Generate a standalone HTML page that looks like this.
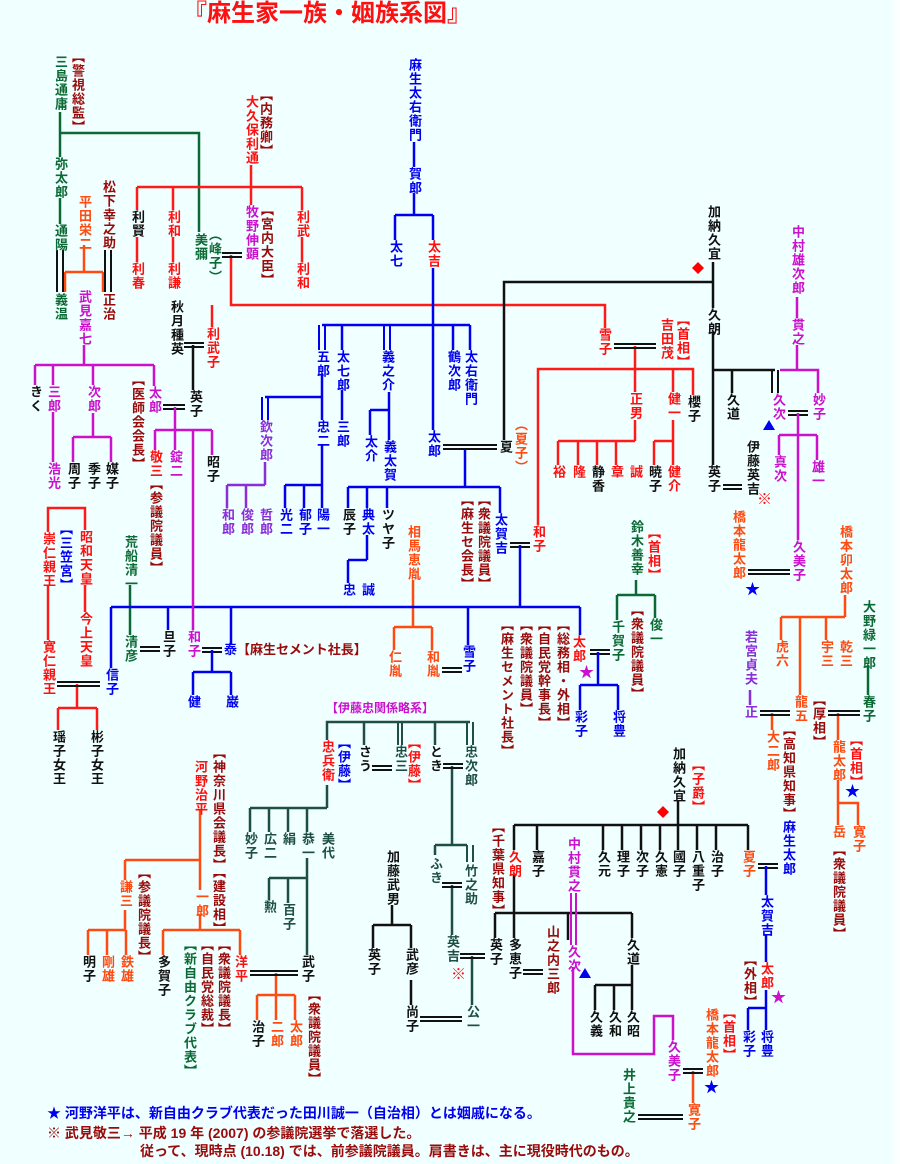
<!DOCTYPE html>
<html><head><meta charset="utf-8">
<style>
html,body{margin:0;padding:0}
body{width:900px;height:1164px;background:#f0ffff;position:relative;overflow:hidden;font-family:"Liberation Sans","Noto Sans CJK JP",sans-serif}
.v{position:absolute;writing-mode:vertical-rl;font-weight:bold;font-size:13px;line-height:14px;letter-spacing:1px;transform:translateX(-50%);white-space:nowrap}
.h{position:absolute;font-weight:bold;font-size:13px;line-height:16px;white-space:nowrap}
.r{color:#ff1010}.b{color:#0000f0}.g{color:#0b6a34}.k{color:#111}.m{color:#cc10cc}.d{color:#9a0a0a}.o{color:#ff4a10}.p{color:#8a2ed8}.t{color:#1d4f45}
svg{position:absolute;left:0;top:0}
</style></head><body>
<div style="position:absolute;right:0;top:0;width:7px;height:1164px;background:#fbffff"></div>
<div class="h r" style="left:183px;top:0px;font-size:24px;line-height:28px;letter-spacing:0px">『麻生家一族・姻族系図』</div>
<svg width="900" height="1164" fill="none" stroke-width="2.5">
<g stroke="#0b6a34">
<path d="M60 112V157M60 133H199V232M60 198V224M130 585V635M636 580V595M617 595H655M617 595V620M655 595V618M868 665V695"/>
</g>
<g stroke="#1d4f45">
<path d="M327 740V722H470M364 722V745M435 722V745M327 785V808M250 808H327M250 808V832M269 808V832M288 808V832M307 808V832M307 858V955M269 878H307M269 878V900M288 878V903M452 766V845M435 845H467M435 845V855M452 885V935M472 956V1005"/>
<path d="M398 722V745M402 722V745M467 722V745M473 722V745M467 845V862M473 845V862" stroke-width="2"/>
</g>
<g stroke="#ff1a1a">
<path d="M251 165V187M137 187H302M137 187V210M173 187V210M251 187V205M302 187V210M137 237V262M173 237V262M302 237V262M231 255V305H605V328M212 305V327"/>
<path d="M48 585V640M85 585V612M48 532V508H85V530M77 684V708M58 708H97M58 708V730M97 708V730"/>
<path d="M538 525V369H693V395M635 346V392M673 369V392M635 420V441M558 441H635M558 441V465M578 441V465M597 441V465M616 441V465M673 420V441M654 441H673V465M654 441V465"/>
</g>
<g stroke="#ff4a10">
<path d="M84 245V272M65 272H103M65 272V292M103 272V292M413 580V627M394 627H432M394 627V650M432 627V650"/>
<path d="M200 810V890M125 860H200M125 860V880M200 915V930M163 930H240M163 930V955M240 930V955M125 910V930M88 930H126M88 930V955M107 930V955M126 930V955"/>
<path d="M276 973V995M257 995H295M257 995V1020M276 995V1020M295 995V1020"/>
<path d="M845 595V617M781 617H845M781 617V640M800 617V695M826 617V640M772 713V730M838 713V740M838 780V825M838 803H858V825M693 1071V1103"/>
</g>
<g stroke="#111">
<path d="M504 440V282H713M713 262V308M713 333V465M713 370H775M732 370V393M193 345V390"/>
<path d="M392 905V925M373 925H411M373 925V948M411 925V948M411 980V1005"/>
<path d="M678 800V825M514 825H748M537 825V850M603 825V850M622 825V850M641 825V850M660 825V850M678 825V850M697 825V850M716 825V850M748 825V850M514 825V850"/>
<path d="M514 875V913M495 913H632M495 913V938M514 913V938M568 913V940M632 913V938M632 965V985M595 985H632M595 985V1010M614 985V1010M632 985V1010"/>
<g stroke-width="2">
<path d="M222 253H242M222 257H242M184 343H204M184 347H204M163 405H185M163 409H185M443 445H497M443 449H497M614 344H656M614 348H656M788 411H808M788 415H808M723 485H742M723 489H742M748 570H790M748 574H790M510 543H530M510 547H530M140 647H160M140 651H160M202 648H222M202 652H222M442 668H462M442 672H462M590 650H610M590 654H610M57 682H100M57 686H100M760 711H790M760 715H790M828 711H860M828 715H860M372 766H392M372 770H392M443 764H463M443 768H463M442 883H462M442 887H462M460 954H485M460 958H485M420 1017H462M420 1021H462M523 970H543M523 974H543M250 971H298M250 975H298M758 864H778M758 868H778M683 1069H703M683 1073H703M638 1115H683M638 1119H683"/>
<path d="M57 250V292M63 250V292M105 250V292M111 250V292M772 370V393M778 370V393"/>
</g>
</g>
<g stroke="#0000f0">
<path d="M414 142V167M414 193V215M395 215H433M395 215V240M433 215V240M433 268V430M322 325H470M342 325V350M453 325V350M470 325V350M322 375V420M265 397H322M322 445V485M285 485H322M285 485V508M304 485V508M322 485V508M342 390V420M389 392V440M370 410H389M370 410V435"/>
<path d="M319 325V350M325 325V350M384 325V350M390 325V350M262 397V420M268 397V420" stroke-width="2"/>
<path d="M465 450V487M348 487H500M348 487V508M367 487V508M387 487V508M500 487V513M367 535V560M348 560H367M348 560V583"/>
<path d="M520 545V607M111 607H580M111 607V668M168 607V630M231 607V645M468 607V645M580 607V635M212 650V672M193 672H231M193 672V695M231 672V695M598 652V685M580 685H618M580 685V710M618 685V710"/>
<path d="M766 866V895M766 935V962M766 990V1030M748 1008H766M748 1008V1030"/>
</g>
<g stroke="#8a2ed8"><path d="M265 462V485M227 485H265M227 485V508M246 485V508M750 690V705"/></g>
<g stroke="#cc10cc">
<path d="M84 345V365M35 365H154M35 365V385M53 365V385M93 365V385M154 365V386M53 412V462M93 413V437M73 437H111M73 437V462M111 437V462"/>
<path d="M175 407V430M155 430H212M155 430V450M175 430V450M193 430V630M212 430V455"/>
<path d="M797 297V318M797 345V370M780 370H818V393M798 413V540M779 435H817M779 435V455M817 435V460"/>
<path d="M571 893V945M576 893V945" stroke-width="2"/>
<path d="M573 967V1054H654V1016H673V1040"/>
</g>
<g stroke="none">
<path fill="#f00" d="M698 262l6 6-6 6-6-6zM663 806l6 6-6 6-6-6z"/>
<path fill="#0000f0" d="M769 420l6 10h-12zM585 968l6 10h-12z"/>
</g>
</svg>
<div class="h b" style="left:745px;top:582px;font-size:15px">★</div>
<div class="h b" style="left:845px;top:784px;font-size:15px">★</div>
<div class="h b" style="left:704px;top:1080px;font-size:15px">★</div>
<div class="h m" style="left:579px;top:665px;font-size:15px">★</div>
<div class="h m" style="left:771px;top:990px;font-size:15px">★</div>
<div class="h r" style="left:757px;top:492px;font-size:15px">※</div>
<div class="h r" style="left:451px;top:967px;font-size:15px">※</div>

<div class="v d" style="left:77px;top:50px">【警視総監】</div>
<div class="v g" style="left:60px;top:55px">三島通庸</div>
<div class="v g" style="left:60px;top:157px">弥太郎</div>
<div class="v g" style="left:60px;top:224px">通陽</div>
<div class="v g" style="left:60px;top:293px">義温</div>
<div class="v r" style="left:251px;top:95px">大久保利通</div>
<div class="v d" style="left:265px;top:88px">【内務卿】</div>
<div class="v k" style="left:137px;top:210px">利賢</div>
<div class="v r" style="left:173px;top:210px">利和</div>
<div class="v m" style="left:251px;top:205px">牧野伸顕</div>
<div class="v d" style="left:266px;top:203px">【宮内大臣】</div>
<div class="v r" style="left:302px;top:210px">利武</div>
<div class="v r" style="left:137px;top:262px">利春</div>
<div class="v r" style="left:173px;top:262px">利謙</div>
<div class="v r" style="left:302px;top:262px">利和</div>
<div class="v g" style="left:200px;top:233px">美彌</div>
<div class="v g" style="left:214px;top:228px">（峰子）</div>
<div class="v d" style="left:108px;top:180px">松下幸之助</div>
<div class="v d" style="left:108px;top:293px">正治</div>
<div class="v o" style="left:84px;top:195px">平田栄二</div>
<div class="v m" style="left:84px;top:290px">武見嘉七</div>
<div class="v k" style="left:176px;top:300px">秋月種英</div>
<div class="v r" style="left:212px;top:327px">利武子</div>
<div class="v k" style="left:35px;top:385px">きく</div>
<div class="v m" style="left:53px;top:385px">三郎</div>
<div class="v m" style="left:93px;top:385px">次郎</div>
<div class="v m" style="left:154px;top:386px">太郎</div>
<div class="v d" style="left:137px;top:373px">【医師会会長】</div>
<div class="v k" style="left:195px;top:390px">英子</div>
<div class="v m" style="left:53px;top:462px">浩光</div>
<div class="v k" style="left:73px;top:462px">周子</div>
<div class="v k" style="left:93px;top:462px">季子</div>
<div class="v k" style="left:111px;top:462px">媒子</div>
<div class="v r" style="left:155px;top:450px">敬三</div>
<div class="v d" style="left:155px;top:477px">【参議院議員】</div>
<div class="v m" style="left:175px;top:450px">錠二</div>
<div class="v k" style="left:212px;top:455px">昭子</div>

<div class="v b" style="left:414px;top:58px">麻生太右衛門</div>
<div class="v b" style="left:414px;top:167px">賀郎</div>
<div class="v b" style="left:395px;top:240px">太七</div>
<div class="v r" style="left:433px;top:240px">太吉</div>
<div class="v b" style="left:322px;top:350px">五郎</div>
<div class="v b" style="left:342px;top:350px">太七郎</div>
<div class="v b" style="left:387px;top:350px">義之介</div>
<div class="v b" style="left:453px;top:350px">鶴次郎</div>
<div class="v b" style="left:470px;top:350px">太右衛門</div>
<div class="v b" style="left:322px;top:420px">忠二</div>
<div class="v b" style="left:342px;top:420px">三郎</div>
<div class="v p" style="left:265px;top:420px">欽次郎</div>
<div class="v b" style="left:370px;top:435px">太介</div>
<div class="v b" style="left:389px;top:440px">義太賀</div>
<div class="v p" style="left:227px;top:508px">和郎</div>
<div class="v p" style="left:246px;top:508px">俊郎</div>
<div class="v p" style="left:265px;top:508px">哲郎</div>
<div class="v b" style="left:285px;top:508px">光二</div>
<div class="v b" style="left:304px;top:508px">郁子</div>
<div class="v b" style="left:322px;top:508px">陽一</div>
<div class="v b" style="left:433px;top:430px">太郎</div>
<div class="v k" style="left:505px;top:440px">夏</div>
<div class="v o" style="left:520px;top:418px">（夏子）</div>
<div class="v k" style="left:348px;top:508px">辰子</div>
<div class="v b" style="left:367px;top:508px">典太</div>
<div class="v k" style="left:387px;top:508px">ツヤ子</div>
<div class="v b" style="left:500px;top:513px">太賀吉</div>
<div class="v b" style="left:348px;top:583px">忠</div>
<div class="v b" style="left:367px;top:583px">誠</div>
<div class="v d" style="left:483px;top:493px">【衆議院議員】</div>
<div class="v d" style="left:466px;top:493px">【麻生セ会長】</div>
<div class="v r" style="left:538px;top:525px">和子</div>

<div class="v k" style="left:713px;top:205px">加納久宜</div>
<div class="v k" style="left:713px;top:308px">久朗</div>
<div class="v r" style="left:604px;top:328px">雪子</div>
<div class="v r" style="left:666px;top:318px">吉田茂</div>
<div class="v r" style="left:682px;top:313px">【首相】</div>
<div class="v r" style="left:635px;top:392px">正男</div>
<div class="v r" style="left:673px;top:392px">健一</div>
<div class="v k" style="left:693px;top:395px">櫻子</div>
<div class="v r" style="left:558px;top:465px">裕</div>
<div class="v r" style="left:578px;top:465px">隆</div>
<div class="v k" style="left:597px;top:465px">静香</div>
<div class="v r" style="left:616px;top:465px">章</div>
<div class="v r" style="left:635px;top:465px">誠</div>
<div class="v k" style="left:654px;top:465px">暁子</div>
<div class="v r" style="left:673px;top:465px">健介</div>
<div class="v k" style="left:732px;top:393px">久道</div>
<div class="v m" style="left:778px;top:393px">久次</div>
<div class="v m" style="left:818px;top:393px">妙子</div>
<div class="v k" style="left:713px;top:465px">英子</div>
<div class="v k" style="left:752px;top:440px">伊藤英吉</div>
<div class="v m" style="left:797px;top:225px">中村雄次郎</div>
<div class="v m" style="left:797px;top:318px">貫之</div>
<div class="v m" style="left:779px;top:455px">真次</div>
<div class="v m" style="left:817px;top:460px">雄一</div>
<div class="v m" style="left:798px;top:540px">久美子</div>
<div class="v o" style="left:738px;top:510px">橋本龍太郎</div>
<div class="v o" style="left:845px;top:525px">橋本卯太郎</div>
<div class="v o" style="left:781px;top:640px">虎六</div>
<div class="v o" style="left:826px;top:640px">宇三</div>
<div class="v o" style="left:845px;top:640px">乾三</div>
<div class="v o" style="left:800px;top:695px">龍五</div>
<div class="v g" style="left:868px;top:600px">大野緑一郎</div>
<div class="v g" style="left:868px;top:695px">春子</div>
<div class="v p" style="left:750px;top:630px">若宮貞夫</div>
<div class="v p" style="left:750px;top:705px">正</div>
<div class="v d" style="left:818px;top:693px">【厚相】</div>
<div class="v o" style="left:772px;top:730px">大二郎</div>
<div class="v d" style="left:788px;top:723px">【高知県知事】</div>
<div class="v o" style="left:838px;top:740px">龍太郎</div>
<div class="v r" style="left:855px;top:733px">【首相】</div>
<div class="v o" style="left:838px;top:825px">岳</div>
<div class="v o" style="left:858px;top:825px">寛子</div>
<div class="v d" style="left:838px;top:843px">【衆議院議員】</div>

<div class="v g" style="left:130px;top:535px">荒船清一</div>
<div class="v g" style="left:130px;top:635px">清彦</div>
<div class="v k" style="left:168px;top:630px">旦子</div>
<div class="v m" style="left:193px;top:630px">和子</div>
<div class="h" style="left:224px;top:642px"><span class="b">泰</span><span class="d">【麻生セメント社長】</span></div>
<div class="v b" style="left:111px;top:668px">信子</div>
<div class="v b" style="left:193px;top:695px">健</div>
<div class="v b" style="left:231px;top:695px">巌</div>
<div class="v r" style="left:85px;top:530px">昭和天皇</div>
<div class="v r" style="left:85px;top:612px">今上天皇</div>
<div class="v r" style="left:48px;top:532px">崇仁親王</div>
<div class="v b" style="left:65px;top:522px">【三笠宮】</div>
<div class="v r" style="left:48px;top:640px">寛仁親王</div>
<div class="v k" style="left:58px;top:730px">瑶子女王</div>
<div class="v k" style="left:96px;top:730px">彬子女王</div>
<div class="v o" style="left:413px;top:525px">相馬恵胤</div>
<div class="v o" style="left:394px;top:650px">仁胤</div>
<div class="v o" style="left:432px;top:650px">和胤</div>
<div class="v b" style="left:468px;top:645px">雪子</div>
<div class="v r" style="left:578px;top:635px">太郎</div>
<div class="v d" style="left:562px;top:618px">【総務相・外相】</div>
<div class="v d" style="left:543px;top:618px">【自民党幹事長】</div>
<div class="v d" style="left:525px;top:618px">【衆議院議員】</div>
<div class="v d" style="left:506px;top:618px">【麻生セメント社長】</div>
<div class="v g" style="left:636px;top:520px">鈴木善幸</div>
<div class="v r" style="left:653px;top:526px">【首相】</div>
<div class="v g" style="left:617px;top:620px">千賀子</div>
<div class="v g" style="left:655px;top:618px">俊一</div>
<div class="v d" style="left:636px;top:603px">【衆議院議員】</div>
<div class="v b" style="left:580px;top:710px">彩子</div>
<div class="v b" style="left:618px;top:710px">将豊</div>

<div class="h m" style="left:326px;top:700px;font-size:12px">【伊藤忠関係略系】</div>
<div class="v r" style="left:327px;top:740px">忠兵衛</div>
<div class="v b" style="left:343px;top:736px">【伊藤】</div>
<div class="v k" style="left:364px;top:745px">さう</div>
<div class="v t" style="left:400px;top:745px">忠三</div>
<div class="v r" style="left:413px;top:736px">【伊藤】</div>
<div class="v k" style="left:435px;top:745px">とき</div>
<div class="v t" style="left:470px;top:745px">忠次郎</div>
<div class="v t" style="left:250px;top:832px">妙子</div>
<div class="v t" style="left:269px;top:832px">広二</div>
<div class="v t" style="left:288px;top:832px">絹</div>
<div class="v t" style="left:307px;top:832px">恭一</div>
<div class="v t" style="left:327px;top:832px">美代</div>
<div class="v t" style="left:269px;top:900px">勲</div>
<div class="v t" style="left:288px;top:903px">百子</div>
<div class="v k" style="left:307px;top:955px">武子</div>
<div class="v r" style="left:240px;top:955px">洋平</div>
<div class="v d" style="left:313px;top:988px">【衆議院議員】</div>
<div class="v k" style="left:257px;top:1020px">治子</div>
<div class="v o" style="left:276px;top:1020px">二郎</div>
<div class="v o" style="left:295px;top:1020px">太郎</div>
<div class="v r" style="left:200px;top:760px">河野治平</div>
<div class="v d" style="left:218px;top:746px">【神奈川県会議長】【建設相】</div>
<div class="v o" style="left:125px;top:880px">謙三</div>
<div class="v d" style="left:143px;top:866px">【参議院議長】</div>
<div class="v o" style="left:201px;top:890px">一郎</div>
<div class="v k" style="left:88px;top:955px">明子</div>
<div class="v o" style="left:107px;top:955px">剛雄</div>
<div class="v o" style="left:126px;top:955px">鉄雄</div>
<div class="v k" style="left:163px;top:955px">多賀子</div>
<div class="v d" style="left:223px;top:938px">【衆議院議長】</div>
<div class="v d" style="left:206px;top:938px">【自民党総裁】</div>
<div class="v g" style="left:189px;top:938px">【新自由クラブ代表】</div>
<div class="v t" style="left:435px;top:857px">ふき</div>
<div class="v t" style="left:470px;top:864px">竹之助</div>
<div class="v t" style="left:452px;top:935px">英吉</div>
<div class="v t" style="left:472px;top:1005px">公一</div>
<div class="v k" style="left:392px;top:850px">加藤武男</div>
<div class="v k" style="left:373px;top:948px">英子</div>
<div class="v k" style="left:411px;top:948px">武彦</div>
<div class="v k" style="left:411px;top:1005px">尚子</div>
<div class="v k" style="left:678px;top:747px">加納久宜</div>
<div class="v r" style="left:697px;top:758px">【子爵】</div>
<div class="v r" style="left:514px;top:850px">久朗</div>
<div class="v d" style="left:497px;top:820px">【千葉県知事】</div>
<div class="v k" style="left:537px;top:850px">嘉子</div>
<div class="v k" style="left:603px;top:850px">久元</div>
<div class="v k" style="left:622px;top:850px">理子</div>
<div class="v k" style="left:641px;top:850px">次子</div>
<div class="v k" style="left:660px;top:850px">久憲</div>
<div class="v k" style="left:678px;top:850px">國子</div>
<div class="v k" style="left:697px;top:850px">八重子</div>
<div class="v k" style="left:716px;top:850px">治子</div>
<div class="v o" style="left:748px;top:850px">夏子</div>
<div class="v m" style="left:573px;top:837px">中村貫之</div>
<div class="v m" style="left:573px;top:945px">久次</div>
<div class="v k" style="left:495px;top:938px">英子</div>
<div class="v k" style="left:514px;top:938px">多恵子</div>
<div class="v d" style="left:552px;top:925px">山之内三郎</div>
<div class="v k" style="left:632px;top:938px">久道</div>
<div class="v k" style="left:595px;top:1010px">久義</div>
<div class="v k" style="left:614px;top:1010px">久和</div>
<div class="v k" style="left:632px;top:1010px">久昭</div>
<div class="v m" style="left:673px;top:1040px">久美子</div>
<div class="v o" style="left:711px;top:1008px">橋本龍太郎</div>
<div class="v r" style="left:728px;top:1006px">【首相】</div>
<div class="v o" style="left:693px;top:1103px">寛子</div>
<div class="v g" style="left:628px;top:1068px">井上貴之</div>
<div class="v b" style="left:788px;top:820px">麻生太郎</div>
<div class="v b" style="left:766px;top:895px">太賀吉</div>
<div class="v r" style="left:766px;top:962px">太郎</div>
<div class="v d" style="left:749px;top:953px">【外相】</div>
<div class="v b" style="left:748px;top:1030px">彩子</div>
<div class="v b" style="left:766px;top:1030px">将豊</div>

<div class="h b" style="left:47px;top:1104px;font-size:14px;line-height:18px">★ 河野洋平は、新自由クラブ代表だった田川誠一（自治相）とは姻戚になる。</div>
<div class="h d" style="left:47px;top:1124px;font-size:14px;line-height:18px">※ 武見敬三→ 平成 19 年 (2007) の参議院選挙で落選した。</div>
<div class="h d" style="left:140px;top:1142px;font-size:14px;line-height:18px">従って、現時点 (10.18) では、前参議院議員。肩書きは、主に現役時代のもの。</div>
</body></html>
